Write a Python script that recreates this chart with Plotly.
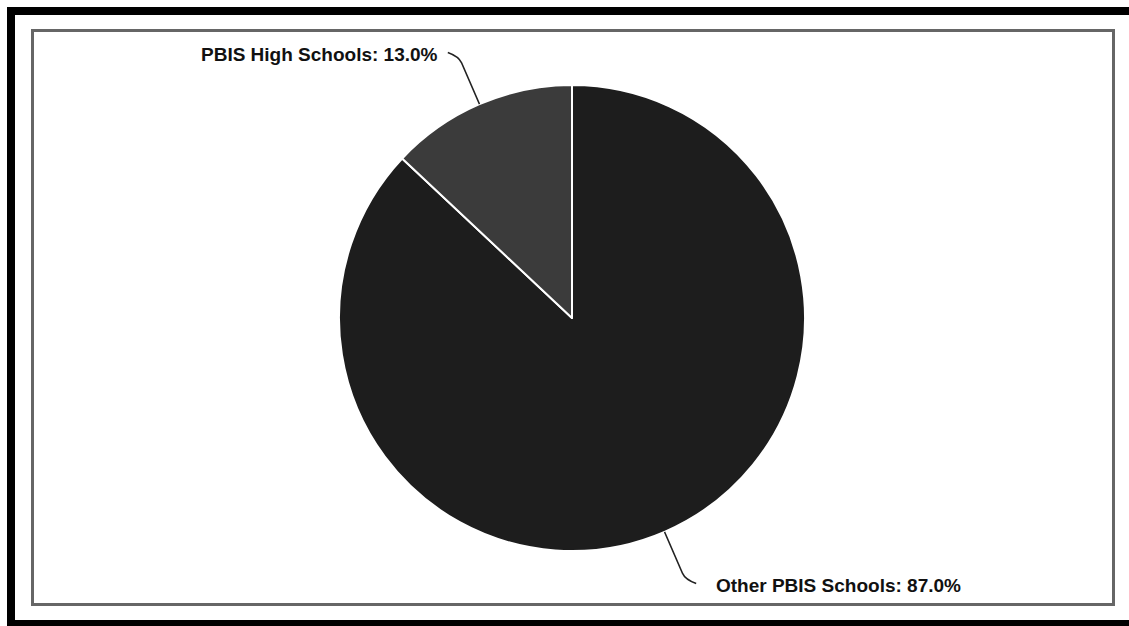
import math
import plotly.graph_objects as go

# ---- data ----
labels = ["Other PBIS Schools", "PBIS High Schools"]
values = [87.0, 13.0]
colors = ["#1d1d1d", "#3b3b3b"]

W, H = 1129, 626
# pie geometry in pixels
CX, CY, R = 572, 318, 233

def px(x):
    return x / W

def py(y):
    return 1 - y / H

fig = go.Figure()
fig.add_trace(go.Pie(
    labels=labels,
    values=values,
    sort=False,
    direction="clockwise",
    rotation=0,
    marker=dict(colors=colors, line=dict(color="#ffffff", width=2)),
    textinfo="none",
    hoverinfo="label+percent",
    showlegend=False,
    domain=dict(x=[px(CX - R), px(CX + R)], y=[py(CY + R), py(CY - R)]),
))

# connectors and labels computed from slice mid-angles
total = sum(values)
cum = 0.0
shapes = []
annotations = []
for lab, val in zip(labels, values):
    mid = (cum + val / 2) / total * 2 * math.pi  # clockwise from top
    cum += val
    ex = CX + R * math.sin(mid)
    ey = CY - R * math.cos(mid)
    ux, uy = math.sin(mid), -math.cos(mid)
    L = 52
    bx = ex + ux * L
    by = ey + uy * L
    side = 1 if ux > 0 else -1
    cy2 = by + (4 if uy > 0 else -4)
    fx = bx + side * 11
    fy = cy2
    path = (f"M {px(ex)},{py(ey)} L {px(bx - ux*7)},{py(by - uy*7)} "
            f"Q {px(bx)},{py(by)} {px(fx)},{py(fy)}")
    shapes.append(dict(type="path", xref="paper", yref="paper", path=path,
                       line=dict(color="#222222", width=1.5)))
    txt = f"{lab}: {val:.1f}%"
    gap = 18 if side > 0 else 8
    annotations.append(dict(
        x=px(fx + side * gap), y=py(fy + 2), xref="paper", yref="paper",
        text=f"<b>{txt}</b>", showarrow=False,
        xanchor="left" if side > 0 else "right", yanchor="middle",
        font=dict(family="Liberation Sans, Arial, sans-serif", size=19, color="#111111"),
    ))

# frame: black outer (top, left, bottom) and gray inner rectangle
shapes.append(dict(type="rect", xref="paper", yref="paper",
                   x0=px(11), x1=px(1140), y0=py(11), y1=py(624),
                   line=dict(color="#000000", width=8), fillcolor="rgba(0,0,0,0)", layer="above"))
shapes.append(dict(type="rect", xref="paper", yref="paper",
                   x0=px(32.5), x1=px(1113.5), y0=py(30.5), y1=py(604.5),
                   line=dict(color="#666666", width=3), fillcolor="rgba(0,0,0,0)"))

fig.update_layout(
    width=W, height=H,
    margin=dict(l=0, r=0, t=0, b=0),
    paper_bgcolor="#ffffff",
    plot_bgcolor="#ffffff",
    shapes=shapes,
    annotations=annotations,
)

fig.write_html("out.html", config={"displayModeBar": False},
               post_script="document.body.style.margin='0px';document.body.style.overflow='hidden';")
